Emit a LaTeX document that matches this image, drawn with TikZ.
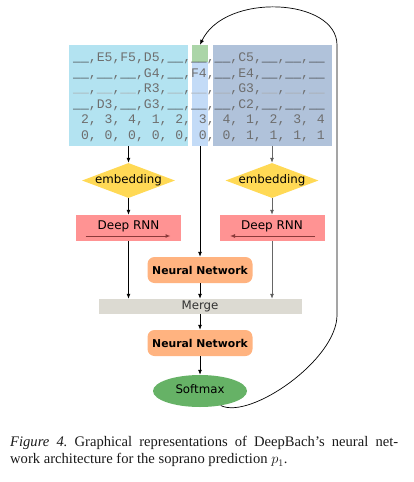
\documentclass[tikz,border=0pt]{standalone}
\usepackage{fontspec}
\setmainfont{Liberation Serif}
\setsansfont{DejaVu Sans}
\setmonofont{Liberation Mono}
\usetikzlibrary{arrows.meta,shapes.geometric}

\definecolor{leftcol}{HTML}{B3E3F1}
\definecolor{rightcol}{HTML}{B0C2DA}
\definecolor{midcol}{HTML}{C3DBF7}
\definecolor{curcol}{HTML}{ABD5A8}
\definecolor{embcol}{HTML}{FFD955}
\definecolor{rnncol}{HTML}{FF9393}
\definecolor{rnnarr}{HTML}{8B3A3A}
\definecolor{nncol}{HTML}{FFB380}
\definecolor{mergecol}{HTML}{DCDAD2}
\definecolor{softcol}{HTML}{66B266}
\definecolor{seqcol}{HTML}{6E6E6E}
\definecolor{blankcol}{HTML}{3C3C3C}
\definecolor{blanklt}{HTML}{A8A8A8}

\newcommand{\bk}{\textcolor{blankcol}{\_\_}}
\newcommand{\bkl}{\textcolor{blanklt}{\_\_}}

\begin{document}
\begin{tikzpicture}[
  x=1pt, y=-1pt,
  blk/.style={rectangle,inner sep=0pt},
  seq/.style={anchor=base west,inner sep=0pt,text=seqcol,
    font=\ttfamily\fontsize{13.1}{15}\selectfont},
  emb/.style={diamond,aspect=2.657,fill=embcol,inner sep=0pt,minimum width=93pt,minimum height=35pt,
    font=\sffamily\fontsize{11.8}{14}\selectfont},
  rnn/.style={rectangle,fill=rnncol,inner sep=0pt,minimum width=105pt,minimum height=26pt,
    text depth=6pt,font=\sffamily\fontsize{12}{14}\selectfont},
  nnet/.style={rectangle,rounded corners=7pt,fill=nncol,inner sep=0pt,minimum width=105pt,
    minimum height=26pt,font=\sffamily\bfseries\fontsize{10.8}{13}\selectfont},
  arr/.style={-{Latex[length=5pt,width=4pt]},line width=0.8pt},
  garr/.style={arr,draw=black!60},
  inarr/.style={-{Latex[length=5pt,width=4pt]},line width=1pt,draw=rnnarr}
]
  \useasboundingbox (0,0) rectangle (413,482);

  % input sequences
  \node[blk,fill=leftcol,minimum width=119pt,minimum height=101pt] (left) at (128.5,95.5) {};
  \node[blk,fill=rightcol,minimum width=119pt,minimum height=101pt] (right) at (272,95.5) {};
  \node[blk,fill=midcol,minimum width=16pt,minimum height=84pt] (mid) at (200,104) {};
  \node[blk,fill=curcol,minimum width=16pt,minimum height=17pt] (cur) at (200,53.5) {};

  \node[seq] (row1) at (73,61.7) {\bk,E5,F5,D5,\bk,\bk,\bk,C5,\bk,\bk,\bk};
  \node[seq] (row2) at (73,77.2) {\bk,\bk,\bk,G4,\bk,F4,\bk,E4,\bk,\bk,\bk};
  \node[seq] (row3) at (73,92.7) {\bkl,\bkl,\bkl,R3,\bkl,\bkl,\bkl,G3,\bkl,\bkl,\bkl};
  \node[seq] (row4) at (73,108.2) {\bk,D3,\bk,G3,\bk,\bk,\bk,C2,\bk,\bk,\bk};
  \node[seq] (row5) at (73,123.7) {\ 2, 3, 4, 1, 2, 3, 4, 1, 2, 3, 4};
  \node[seq] (row6) at (73,139.2) {\ 0, 0, 0, 0, 0, 0, 0, 1, 1, 1, 1};

  % embeddings and recurrent nets
  \node[emb] (embL) at (128.5,180.5) {\makebox[0pt]{embedding}};
  \node[emb] (embR) at (272,180.5) {\makebox[0pt]{embedding}};
  \node[rnn] (rnnL) at (128.5,228) {Deep RNN};
  \node[rnn] (rnnR) at (272,228) {Deep RNN};
  \draw[inarr] ([xshift=-43pt,yshift=-8pt]rnnL.center) -- ([xshift=42pt,yshift=-8pt]rnnL.center);
  \draw[inarr] ([xshift=43pt,yshift=-8pt]rnnR.center) -- ([xshift=-42pt,yshift=-8pt]rnnR.center);

  % merge and output
  \node[nnet] (nn1) at (200,270) {Neural Network};
  \node[blk,fill=mergecol,minimum width=203pt,minimum height=15pt,text=black!80,
    font=\sffamily\fontsize{11.8}{14}\selectfont] (merge) at (200,306.5) {Merge};
  \node[nnet] (nn2) at (200,343) {Neural Network};
  \node[ellipse,fill=softcol,inner sep=0pt,minimum width=94pt,minimum height=32pt,text depth=4pt,
    font=\sffamily\fontsize{11.8}{14}\selectfont] (soft) at (200,391) {Softmax};

  % edges
  \draw[arr] (left) edge (embL);
  \draw[garr] (right) edge (embR);
  \draw[arr] (embL) edge (rnnL);
  \draw[garr] (embR) edge (rnnR);
  \draw[arr] (mid) edge (nn1);
  \draw[arr] (rnnL) edge (rnnL |- merge.north);
  \draw[garr] (rnnR) edge (rnnR |- merge.north);
  \draw[arr] (nn1) edge (merge);
  \draw[arr] (merge) edge (nn2);
  \draw[arr] (nn2) edge (soft);

  % feedback to the current note
  \draw[arr,line width=0.7pt] (soft.-35) .. controls (250,420) and (337,360) .. (337,315)
    -- (337,45) .. controls (337,-2) and (225,-8) .. (cur.north);

  % caption
  \node[anchor=north west,inner sep=0pt,text width=388pt,align=justify,text=black!90,
    font=\fontsize{14.6}{17.5}\selectfont] (cap) at (10,436)
    {\textit{Figure 4.}\ Graphical representations of DeepBach's neural net-\linebreak
     work architecture for the soprano prediction $p_1$.};
\end{tikzpicture}
\end{document}
